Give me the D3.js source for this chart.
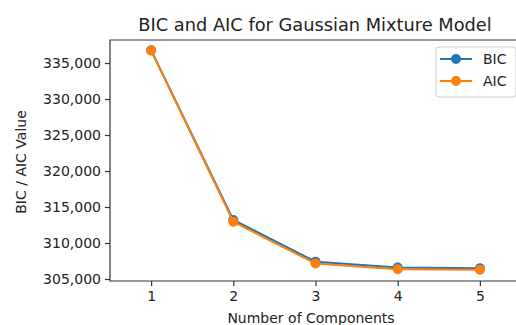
<!DOCTYPE html>
<html>
<head>
<meta charset="utf-8">
<script src="https://cdn.jsdelivr.net/npm/d3@7"></script>
<style>
  body { margin: 0; background: #fff; }
  text { font-family: "DejaVu Sans", sans-serif; fill: #222; }
</style>
</head>
<body>
<svg width="516" height="325"></svg>
<script>
var components = [1, 2, 3, 4, 5];
var bic = [336770, 313200, 307400, 306600, 306500];
var aic = [336750, 312950, 307150, 306350, 306300];
var yTicks = [305000, 310000, 315000, 320000, 325000, 330000, 335000];

var svg = d3.select("svg");
var mLeft = 110, mTop = 40, mRight = 521, mBottom = 281;

var x = d3.scaleLinear().domain([0.5, 5.5]).range([mLeft, mRight]);
var y = d3.scaleLinear().domain([304720, 338200]).range([mBottom, mTop]);

var fmt = d3.format(",");

// axes
svg.append("g")
    .attr("transform", "translate(0," + mBottom + ")")
    .call(d3.axisBottom(x).tickValues(components).tickSize(5).tickPadding(5).tickFormat(d3.format("d")))
    .call(function(g) { g.select(".domain").remove(); })
    .selectAll("text").style("font-size", "14px").attr("fill", "#222");

svg.append("g")
    .attr("transform", "translate(" + mLeft + ",0)")
    .call(d3.axisLeft(y).tickValues(yTicks).tickSize(5).tickPadding(4).tickFormat(fmt))
    .call(function(g) { g.select(".domain").remove(); })
    .selectAll("text").style("font-size", "14px").attr("fill", "#222");

svg.selectAll(".tick line").attr("stroke", "#333").attr("stroke-width", 1.2);

// spines
svg.append("path")
    .attr("d", "M" + mRight + "," + mTop + "H" + mLeft + "V" + mBottom + "H" + mRight)
    .attr("fill", "none").attr("stroke", "#333").attr("stroke-width", 1.2);

var series = [
  { name: "BIC", values: bic, color: "#1f77b4" },
  { name: "AIC", values: aic, color: "#ff7f0e" }
];

var line = d3.line()
    .x(function(d, i) { return x(components[i]); })
    .y(function(d) { return y(d); });

series.forEach(function(s) {
  var g = svg.append("g");
  g.append("path").datum(s.values)
      .attr("d", line).attr("fill", "none")
      .attr("stroke", s.color).attr("stroke-width", 2);
  g.selectAll("circle").data(s.values).enter().append("circle")
      .attr("cx", function(d, i) { return x(components[i]); })
      .attr("cy", function(d) { return y(d); })
      .attr("r", 5).attr("fill", s.color);
});

// title and labels
svg.append("text").attr("x", 315).attr("y", 31).attr("text-anchor", "middle")
    .style("font-size", "17.8px").text("BIC and AIC for Gaussian Mixture Model");
svg.append("text").attr("x", 311).attr("y", 323).attr("text-anchor", "middle")
    .style("font-size", "14px").text("Number of Components");
svg.append("text").attr("transform", "translate(26,162) rotate(-90)").attr("text-anchor", "middle")
    .style("font-size", "14px").text("BIC / AIC Value");

// legend
var lg = svg.append("g").attr("transform", "translate(436,47)");
lg.append("rect").attr("width", 80).attr("height", 50).attr("rx", 3)
    .attr("fill", "#fff").attr("fill-opacity", 0.8).attr("stroke", "#ccc");
series.forEach(function(s, i) {
  var yy = 12 + i * 22;
  lg.append("line").attr("x1", 4).attr("x2", 36).attr("y1", yy).attr("y2", yy)
      .attr("stroke", s.color).attr("stroke-width", 2);
  lg.append("circle").attr("cx", 20).attr("cy", yy).attr("r", 5).attr("fill", s.color);
  lg.append("text").attr("x", 47).attr("y", yy + 5).style("font-size", "14px").text(s.name);
});
</script>
</body>
</html>
